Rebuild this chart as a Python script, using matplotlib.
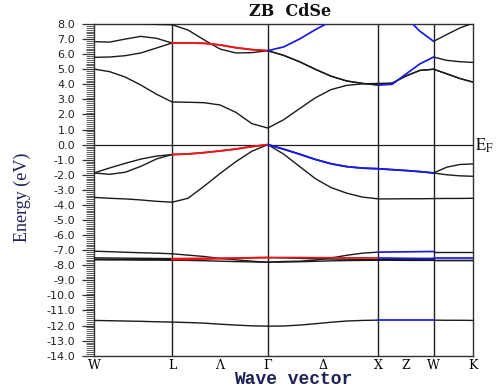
import numpy as np
import matplotlib
matplotlib.use("Agg")
import matplotlib.pyplot as plt
from matplotlib.ticker import MultipleLocator, FormatStrFormatter

plt.rcParams['mathtext.fontset'] = 'stix'

# ---- data -------------------------------------------------------------
# high-symmetry points (cumulative path length, 2*pi/a units)
sym_labels = ['W', 'L', 'Λ', 'Γ', 'Δ', 'X', 'Z', 'W', 'K']
sym_k = [0.000, 0.707, 1.140, 1.573, 2.073, 2.573, 2.823, 3.073, 3.427]
node_k = [0.707, 1.573, 2.573, 3.073]          # vertical separators (L, Γ, X, W)

# sampled k along the path W-L-Γ-X-W-K
k_path = [0.000, 0.141, 0.283, 0.424, 0.566, 0.707,
          0.851, 0.996, 1.140, 1.284, 1.429, 1.573,
          1.716, 1.859, 2.002, 2.145, 2.287, 2.430, 2.573,
          2.698, 2.823, 2.948, 3.073,
          3.191, 3.309, 3.427]
seg_bounds = [0, 5, 11, 18, 22, 25]   # indices of W, L, Γ, X, W, K in k_path

band_c1 = [5.01, 4.84, 4.48, 3.95, 3.34, 2.83, 2.81, 2.78, 2.63, 2.14, 1.39, 1.10,
           1.65, 2.38, 3.10, 3.65, 3.93, 4.03, 4.06, 4.08, 4.55, 4.92, 5.00,
           4.70, 4.39, 4.15]
band_c2 = [5.79, 5.81, 5.90, 6.08, 6.41, 6.74, 6.74, 6.72, 6.61, 6.43, 6.30, 6.23,
           5.92, 5.50, 5.00, 4.54, 4.22, 4.06, 3.95, 4.00, 4.68, 5.35, 5.81,
           5.59, 5.50, 5.45]
band_c3 = [6.83, 6.80, 7.00, 7.18, 7.05, 6.74, 6.74, 6.72, 6.61, 6.43, 6.30, 6.23,
           6.48, 7.00, 7.62, 8.18, 8.70, 9.10, 9.30, 9.10, 8.45, 7.53, 6.85,
           7.30, 7.73, 8.05]
band_c4 = [9.00, 8.70, 8.40, 8.04, 7.97, 7.95, 7.60, 6.95, 6.34, 6.08, 6.10, 6.23,
           5.92, 5.50, 5.00, 4.54, 4.22, 4.06, 3.95, 4.08, 4.55, 4.92, 5.00,
           4.70, 4.39, 4.15]
band_v1 = [-1.88, -1.97, -1.83, -1.44, -0.95, -0.66, -0.62, -0.53, -0.42, -0.29, -0.13, 0.00,
           -0.30, -0.63, -0.98, -1.27, -1.46, -1.56, -1.60, -1.66, -1.72, -1.79, -1.88,
           -2.00, -2.07, -2.10]
band_v2 = [-1.88, -1.55, -1.24, -0.96, -0.76, -0.66, -0.62, -0.53, -0.42, -0.29, -0.13, 0.00,
           -0.30, -0.63, -0.98, -1.27, -1.46, -1.56, -1.60, -1.66, -1.72, -1.79, -1.88,
           -1.50, -1.32, -1.28]
band_v3 = [-3.50, -3.56, -3.60, -3.67, -3.76, -3.82, -3.56, -2.76, -1.92, -1.13, -0.44, 0.00,
           -0.63, -1.44, -2.25, -2.85, -3.22, -3.48, -3.60, -3.60, -3.59, -3.59, -3.58,
           -3.57, -3.57, -3.56]
band_d1 = [-7.07, -7.10, -7.14, -7.17, -7.20, -7.24, -7.33, -7.42, -7.55, -7.64, -7.73, -7.80,
           -7.75, -7.73, -7.66, -7.52, -7.34, -7.20, -7.13, -7.12, -7.11, -7.10, -7.09,
           -7.09, -7.09, -7.09]
band_d2 = [-7.51, -7.52, -7.53, -7.54, -7.55, -7.56, -7.55, -7.54, -7.53, -7.52, -7.50, -7.49,
           -7.49, -7.49, -7.50, -7.50, -7.51, -7.51, -7.52, -7.53, -7.54, -7.55, -7.55,
           -7.55, -7.55, -7.55]
band_d3 = [-7.60, -7.60, -7.61, -7.61, -7.62, -7.62, -7.61, -7.59, -7.57, -7.54, -7.51, -7.49,
           -7.51, -7.54, -7.57, -7.59, -7.60, -7.61, -7.62, -7.62, -7.63, -7.63, -7.63,
           -7.63, -7.63, -7.63]
band_d4 = [-7.64, -7.65, -7.65, -7.66, -7.66, -7.67, -7.68, -7.70, -7.73, -7.76, -7.78, -7.80,
           -7.79, -7.77, -7.74, -7.71, -7.69, -7.68, -7.67, -7.67, -7.68, -7.68, -7.68,
           -7.68, -7.68, -7.68]
band_s = [-11.66, -11.68, -11.70, -11.72, -11.75, -11.77, -11.80, -11.84, -11.91, -11.97, -12.02, -12.04,
          -12.03, -11.97, -11.88, -11.78, -11.70, -11.66, -11.64, -11.64, -11.64, -11.64, -11.64,
          -11.65, -11.65, -11.66]

y_ticks = [8.0, 7.0, 6.0, 5.0, 4.0, 3.0, 2.0, 1.0, 0.0, -1.0, -2.0, -3.0, -4.0, -5.0, -6.0,
           -7.0, -8.0, -9.0, -10.0, -11.0, -12.0, -13.0, -14.0]

# ---- style: colour of each path segment (W-L, L-Γ, Γ-X, X-W, W-K) ------
K_, R_, B_ = '#1a1a1a', '#e8141a', '#1a1ae0'
bands = [
    (band_c4, [K_, K_, K_, K_, K_]),
    (band_c1, [K_, K_, K_, K_, K_]),
    (band_c2, [K_, R_, K_, B_, K_]),
    (band_c3, [K_, R_, B_, B_, K_]),
    (band_v3, [K_, K_, K_, K_, K_]),
    (band_v1, [K_, R_, B_, B_, K_]),
    (band_v2, [K_, R_, B_, B_, K_]),
    (band_d4, [K_, K_, K_, K_, K_]),
    (band_d1, [K_, K_, K_, B_, K_]),
    (band_d3, [K_, R_, K_, K_, K_]),
    (band_d2, [K_, R_, R_, B_, B_]),
    (band_s,  [K_, K_, K_, B_, K_]),
]

W_PX, H_PX = 502, 389
fig = plt.figure(figsize=(W_PX / 100, H_PX / 100), dpi=100)
ax = fig.add_axes([94 / W_PX, 1 - 355.7 / H_PX, (472.7 - 94) / W_PX, (355.7 - 24) / H_PX])

k = np.array(k_path)
for vals, cols in bands:
    e = np.array(vals)
    for s in range(5):
        a, b = seg_bounds[s], seg_bounds[s + 1]
        col = cols[s]
        ax.plot(k[a:b + 1], e[a:b + 1], color=col,
                lw=1.0 if col == K_ else 1.25, zorder=3 if col == K_ else 4,
                solid_capstyle='round')

for xv in node_k:
    ax.axvline(xv, color='#202020', lw=1.0, zorder=2)
ax.axhline(0.0, color='#202020', lw=0.9, zorder=2)

ax.set_xlim(sym_k[0], sym_k[-1])
ax.set_ylim(-14.0, 8.0)

ax.set_yticks(y_ticks)
ax.yaxis.set_major_formatter(FormatStrFormatter('%.1f'))
ax.yaxis.set_minor_locator(MultipleLocator(0.125))
ax.tick_params(axis='y', which='major', direction='out', length=8.5, width=0.9,
               pad=5, labelsize=8, labelcolor='#222222', color='#333333')
ax.tick_params(axis='y', which='minor', direction='out', length=5.5, width=0.6,
               color='#444444')
ax.set_xticks(sym_k)
ax.set_xticklabels(sym_labels, fontfamily='DejaVu Serif', fontsize=9)
ax.tick_params(axis='x', length=0, pad=2.5)

for sp in ax.spines.values():
    sp.set_linewidth(1.0)
    sp.set_color('#303030')

fig.text(290 / W_PX, 1 - 12 / H_PX, 'ZB  CdSe', ha='center', va='center',
         fontfamily='DejaVu Serif', fontweight='bold', fontsize=11.5, color='#101010')
fig.text(22 / W_PX, 1 - 197 / H_PX, 'Energy (eV)', rotation=90, ha='center', va='center',
         fontfamily='Liberation Serif', fontsize=13, color='#1c2255')
fig.text(293 / W_PX, 1 - 380 / H_PX, 'Wave vector', ha='center', va='center',
         fontfamily='Liberation Mono', fontweight='bold', fontsize=13, color='#1c2255')
fig.text(475 / W_PX, 1 - 146 / H_PX, r'$\mathrm{E}_{\mathrm{F}}$', ha='left', va='center',
         fontsize=12, color='#101010')

fig.savefig('out.png', dpi=100, facecolor='white')
